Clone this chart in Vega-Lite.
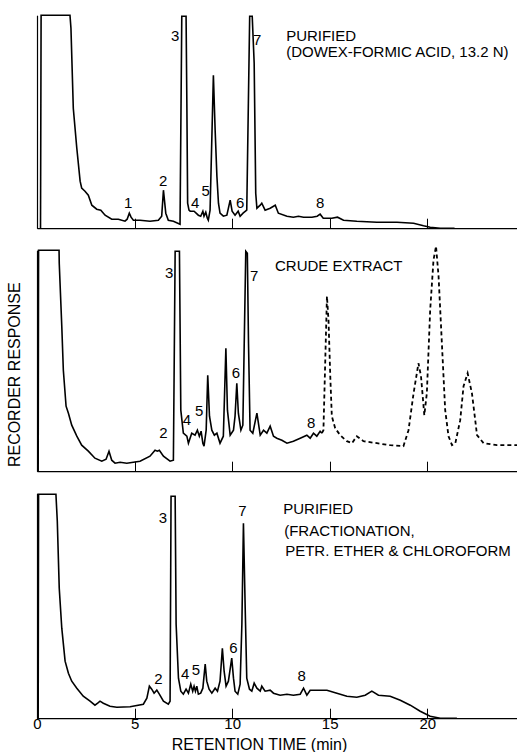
{
  "$schema": "https://vega.github.io/schema/vega-lite/v6.json",
  "autosize": {"type": "pad"},
  "padding": {"left": 6, "top": 11.2, "right": 0, "bottom": 1},
  "background": "white",
  "bounds": "flush",
  "spacing": 22,
  "resolve": {"scale": {"y": "independent"}, "axis": {"x": "independent", "y": "independent"}},
  "config": {
    "view": {"stroke": null},
    "axis": {"domainColor": "black", "tickColor": "black", "labelColor": "black", "titleColor": "black", "labelFont": "Liberation Sans", "titleFont": "Liberation Sans", "titleFontWeight": "normal", "grid": false, "domainWidth": 1.2, "tickWidth": 1},
    "text": {"font": "Liberation Sans", "color": "black", "fontSize": 15},
    "line": {"color": "black", "strokeWidth": 1.6}
  },
  "datasets": {
    "top": [
      {"t":0.18,"v":0},{"t":0.21,"v":213},{"t":1.69,"v":213},{"t":1.74,"v":200},{"t":1.86,"v":120},{"t":2.04,"v":80},{"t":2.21,"v":47},{"t":2.29,"v":40},{"t":2.46,"v":37},{"t":2.63,"v":33},{"t":2.81,"v":23},{"t":3.06,"v":19},{"t":3.27,"v":18},{"t":3.49,"v":13},{"t":3.83,"v":9},{"t":4.17,"v":9},{"t":4.51,"v":7},{"t":4.62,"v":9},{"t":4.73,"v":15},{"t":4.82,"v":11},{"t":4.94,"v":8},{"t":5.28,"v":8},{"t":5.79,"v":7},{"t":6.22,"v":8},{"t":6.39,"v":12},{"t":6.48,"v":38},{"t":6.60,"v":15},{"t":6.73,"v":8},{"t":6.99,"v":7},{"t":7.33,"v":4},{"t":7.42,"v":212},{"t":7.64,"v":212},{"t":7.68,"v":125},{"t":7.72,"v":25},{"t":7.79,"v":18},{"t":7.85,"v":17},{"t":8.05,"v":17},{"t":8.27,"v":13},{"t":8.39,"v":12},{"t":8.50,"v":17},{"t":8.56,"v":12},{"t":8.65,"v":16},{"t":8.73,"v":10},{"t":8.78,"v":8},{"t":8.87,"v":18},{"t":9.04,"v":153},{"t":9.13,"v":98},{"t":9.22,"v":52},{"t":9.30,"v":25},{"t":9.38,"v":15},{"t":9.55,"v":12},{"t":9.73,"v":13},{"t":9.81,"v":20},{"t":9.90,"v":28},{"t":10.0,"v":17},{"t":10.15,"v":13},{"t":10.31,"v":17},{"t":10.41,"v":12},{"t":10.56,"v":15},{"t":10.75,"v":18},{"t":10.90,"v":212},{"t":11.03,"v":212},{"t":11.13,"v":165},{"t":11.21,"v":35},{"t":11.27,"v":20},{"t":11.44,"v":23},{"t":11.52,"v":25},{"t":11.69,"v":18},{"t":11.95,"v":20},{"t":12.21,"v":23},{"t":12.37,"v":15},{"t":12.81,"v":12},{"t":13.14,"v":11},{"t":13.40,"v":12},{"t":13.66,"v":11},{"t":14.09,"v":11},{"t":14.36,"v":12},{"t":14.51,"v":14},{"t":14.67,"v":10},{"t":15.11,"v":10},{"t":15.40,"v":11},{"t":15.71,"v":8},{"t":16.39,"v":7},{"t":17.42,"v":6},{"t":18.45,"v":6},{"t":19.30,"v":5},{"t":19.81,"v":2.5},{"t":20.15,"v":1},{"t":20.67,"v":0},{"t":21.4,"v":0}
    ],
    "mid": [
      {"t":0.06,"v":0},{"t":0.08,"v":221},{"t":1.13,"v":221},{"t":1.14,"v":208},{"t":1.27,"v":145},{"t":1.35,"v":101},{"t":1.49,"v":65},{"t":1.61,"v":58},{"t":1.78,"v":46},{"t":2.04,"v":35},{"t":2.29,"v":26},{"t":2.63,"v":20},{"t":2.97,"v":13},{"t":3.32,"v":10},{"t":3.54,"v":12},{"t":3.69,"v":20},{"t":3.83,"v":11},{"t":4.0,"v":8},{"t":4.26,"v":9},{"t":4.60,"v":8},{"t":5.28,"v":10},{"t":5.79,"v":15},{"t":6.05,"v":21},{"t":6.17,"v":20},{"t":6.27,"v":21},{"t":6.48,"v":15},{"t":6.82,"v":10},{"t":6.99,"v":11},{"t":7.08,"v":220},{"t":7.30,"v":220},{"t":7.37,"v":61},{"t":7.50,"v":38},{"t":7.68,"v":35},{"t":7.76,"v":28},{"t":7.93,"v":38},{"t":8.10,"v":36},{"t":8.22,"v":41},{"t":8.32,"v":35},{"t":8.41,"v":40},{"t":8.50,"v":28},{"t":8.56,"v":25},{"t":8.67,"v":41},{"t":8.75,"v":96},{"t":8.84,"v":55},{"t":8.96,"v":41},{"t":9.09,"v":36},{"t":9.22,"v":38},{"t":9.38,"v":28},{"t":9.55,"v":35},{"t":9.68,"v":123},{"t":9.76,"v":61},{"t":9.90,"v":36},{"t":10.07,"v":41},{"t":10.15,"v":55},{"t":10.24,"v":88},{"t":10.32,"v":58},{"t":10.45,"v":41},{"t":10.55,"v":46},{"t":10.70,"v":220},{"t":10.78,"v":218},{"t":10.84,"v":128},{"t":10.92,"v":41},{"t":11.06,"v":38},{"t":11.27,"v":58},{"t":11.44,"v":36},{"t":11.61,"v":41},{"t":11.78,"v":38},{"t":11.95,"v":45},{"t":12.12,"v":35},{"t":12.29,"v":33},{"t":12.55,"v":31},{"t":12.81,"v":28},{"t":13.14,"v":30},{"t":13.49,"v":33},{"t":13.83,"v":36},{"t":14.0,"v":33},{"t":14.17,"v":38},{"t":14.34,"v":35},{"t":14.51,"v":40},{"t":14.60,"v":38}
    ],
    "midDash": [
      {"t":14.60,"v":38},{"t":14.68,"v":41},{"t":14.86,"v":175},{"t":14.94,"v":151},{"t":15.03,"v":95},{"t":15.11,"v":55},{"t":15.28,"v":43},{"t":15.54,"v":36},{"t":15.88,"v":30},{"t":16.14,"v":28},{"t":16.39,"v":35},{"t":16.73,"v":30},{"t":17.42,"v":28},{"t":18.10,"v":26},{"t":18.78,"v":25},{"t":19.04,"v":41},{"t":19.30,"v":78},{"t":19.55,"v":108},{"t":19.68,"v":95},{"t":19.85,"v":56},{"t":19.98,"v":78},{"t":20.15,"v":161},{"t":20.32,"v":211},{"t":20.45,"v":225},{"t":20.58,"v":195},{"t":20.75,"v":128},{"t":20.92,"v":61},{"t":21.09,"v":35},{"t":21.27,"v":26},{"t":21.44,"v":28},{"t":21.69,"v":51},{"t":21.86,"v":85},{"t":22.07,"v":98},{"t":22.29,"v":78},{"t":22.46,"v":51},{"t":22.55,"v":36},{"t":22.89,"v":28},{"t":23.57,"v":26},{"t":24.6,"v":26}
    ],
    "bot": [
      {"t":0.06,"v":0},{"t":0.08,"v":224},{"t":0.97,"v":224},{"t":1.04,"v":197},{"t":1.14,"v":130},{"t":1.27,"v":90},{"t":1.44,"v":57},{"t":1.61,"v":45},{"t":1.78,"v":37},{"t":2.04,"v":30},{"t":2.37,"v":22},{"t":2.72,"v":17},{"t":2.97,"v":13},{"t":3.11,"v":15},{"t":3.23,"v":17},{"t":3.40,"v":15},{"t":3.74,"v":12},{"t":4.09,"v":11},{"t":4.77,"v":11.5},{"t":5.45,"v":14},{"t":5.63,"v":20},{"t":5.76,"v":32},{"t":5.88,"v":29},{"t":6.0,"v":25},{"t":6.14,"v":28},{"t":6.27,"v":24},{"t":6.48,"v":17},{"t":6.73,"v":14},{"t":6.82,"v":17},{"t":6.87,"v":222},{"t":7.08,"v":222},{"t":7.13,"v":94},{"t":7.25,"v":40},{"t":7.37,"v":27},{"t":7.50,"v":24},{"t":7.64,"v":29},{"t":7.76,"v":25},{"t":7.88,"v":34},{"t":7.98,"v":27},{"t":8.05,"v":32},{"t":8.12,"v":27},{"t":8.19,"v":32},{"t":8.27,"v":24},{"t":8.39,"v":25},{"t":8.50,"v":30},{"t":8.62,"v":54},{"t":8.70,"v":37},{"t":8.82,"v":29},{"t":8.96,"v":25},{"t":9.13,"v":30},{"t":9.25,"v":27},{"t":9.38,"v":37},{"t":9.50,"v":70},{"t":9.59,"v":47},{"t":9.69,"v":32},{"t":9.81,"v":37},{"t":9.98,"v":60},{"t":10.07,"v":40},{"t":10.15,"v":27},{"t":10.29,"v":24},{"t":10.41,"v":34},{"t":10.50,"v":94},{"t":10.58,"v":195},{"t":10.67,"v":110},{"t":10.75,"v":40},{"t":10.89,"v":29},{"t":11.01,"v":27},{"t":11.13,"v":35},{"t":11.27,"v":30},{"t":11.44,"v":27},{"t":11.52,"v":32},{"t":11.69,"v":27},{"t":11.95,"v":28},{"t":12.12,"v":25},{"t":12.46,"v":23},{"t":12.81,"v":24},{"t":13.14,"v":23},{"t":13.49,"v":24},{"t":13.66,"v":30},{"t":13.83,"v":23},{"t":14.0,"v":28},{"t":14.34,"v":28},{"t":14.86,"v":28},{"t":15.37,"v":25},{"t":15.88,"v":22},{"t":16.39,"v":21},{"t":16.82,"v":23},{"t":17.16,"v":27},{"t":17.50,"v":23},{"t":18.10,"v":22},{"t":18.62,"v":18},{"t":19.13,"v":13},{"t":19.64,"v":7},{"t":20.15,"v":2},{"t":20.67,"v":0},{"t":21.52,"v":0}
    ],
    "peaks": [
      {"panel":"top","label":"1","t":4.67,"v":25},
      {"panel":"top","label":"2","t":6.46,"v":47},
      {"panel":"top","label":"3","t":7.08,"v":192},
      {"panel":"top","label":"4","t":8.10,"v":25},
      {"panel":"top","label":"5","t":8.64,"v":37},
      {"panel":"top","label":"6","t":10.41,"v":25},
      {"panel":"top","label":"7","t":11.28,"v":188},
      {"panel":"top","label":"8","t":14.51,"v":25},
      {"panel":"mid","label":"2","t":6.48,"v":38},
      {"panel":"mid","label":"3","t":6.78,"v":198},
      {"panel":"mid","label":"4","t":7.68,"v":51},
      {"panel":"mid","label":"5","t":8.31,"v":60},
      {"panel":"mid","label":"6","t":10.19,"v":98},
      {"panel":"mid","label":"7","t":11.13,"v":195},
      {"panel":"mid","label":"8","t":14.05,"v":48},
      {"panel":"bot","label":"2","t":6.22,"v":39},
      {"panel":"bot","label":"3","t":6.45,"v":200},
      {"panel":"bot","label":"4","t":7.59,"v":44},
      {"panel":"bot","label":"5","t":8.15,"v":48},
      {"panel":"bot","label":"6","t":10.07,"v":70},
      {"panel":"bot","label":"7","t":10.53,"v":207},
      {"panel":"bot","label":"8","t":13.57,"v":42}
    ],
    "notes": [
      {"panel":"top","label":"PURIFIED","t":12.77,"v":192},
      {"panel":"top","label":"(DOWEX-FORMIC ACID, 13.2 N)","t":12.77,"v":176},
      {"panel":"mid","label":"CRUDE EXTRACT","t":12.2,"v":205},
      {"panel":"bot","label":"PURIFIED","t":12.62,"v":209},
      {"panel":"bot","label":"(FRACTIONATION,","t":12.67,"v":187},
      {"panel":"bot","label":"PETR. ETHER & CHLOROFORM","t":12.72,"v":167}
    ]
  },
  "vconcat": [
    {
      "width": 480, "height": 213,
      "encoding": {
        "x": {"field": "t", "type": "quantitative", "scale": {"domain": [0, 24.6], "nice": false, "zero": false}, "axis": {"values": [0, 5, 10, 15, 20], "labels": false, "title": null, "tickSize": -10}},
        "y": {"field": "v", "type": "quantitative", "scale": {"domain": [0, 213], "nice": false, "zero": false}, "axis": {"ticks": false, "labels": false, "title": null}}
      },
      "layer": [
        {"data": {"name": "top"}, "mark": {"type": "line"}},
        {"data": {"name": "peaks"}, "transform": [{"filter": "datum.panel === 'top'"}], "mark": {"type": "text", "align": "center", "baseline": "middle"}, "encoding": {"text": {"field": "label"}}},
        {"data": {"name": "notes"}, "transform": [{"filter": "datum.panel === 'top'"}], "mark": {"type": "text", "align": "left", "baseline": "middle"}, "encoding": {"text": {"field": "label"}}}
      ]
    },
    {
      "width": 480, "height": 221,
      "encoding": {
        "x": {"field": "t", "type": "quantitative", "scale": {"domain": [0, 24.6], "nice": false, "zero": false}, "axis": {"values": [0, 5, 10, 15, 20], "labels": false, "title": null, "tickSize": -10}},
        "y": {"field": "v", "type": "quantitative", "scale": {"domain": [0, 221], "nice": false, "zero": false}, "axis": {"ticks": false, "labels": false, "title": "RECORDER RESPONSE", "titleFontSize": 16, "titleX": -23, "titleY": 124, "titleBaseline": "middle", "titleAlign": "center"}}
      },
      "layer": [
        {"data": {"name": "mid"}, "mark": {"type": "line"}},
        {"data": {"name": "midDash"}, "mark": {"type": "line", "strokeDash": [4, 3], "strokeWidth": 1.8}},
        {"data": {"name": "peaks"}, "transform": [{"filter": "datum.panel === 'mid'"}], "mark": {"type": "text", "align": "center", "baseline": "middle"}, "encoding": {"text": {"field": "label"}}},
        {"data": {"name": "notes"}, "transform": [{"filter": "datum.panel === 'mid'"}], "mark": {"type": "text", "align": "left", "baseline": "middle"}, "encoding": {"text": {"field": "label"}}}
      ]
    },
    {
      "width": 480, "height": 225,
      "encoding": {
        "x": {"field": "t", "type": "quantitative", "scale": {"domain": [0, 24.6], "nice": false, "zero": false}, "axis": {"values": [0, 5, 10, 15, 20], "tickSize": -10, "labelFontSize": 15, "labelBaseline": "middle", "labelPadding": 15, "labelFlush": false, "title": "RETENTION TIME (min)", "titleFontSize": 16, "titleX": 222, "titleY": 18, "titleBaseline": "top", "titleAlign": "center"}},
        "y": {"field": "v", "type": "quantitative", "scale": {"domain": [0, 225], "nice": false, "zero": false}, "axis": {"ticks": false, "labels": false, "title": null}}
      },
      "layer": [
        {"data": {"name": "bot"}, "mark": {"type": "line"}},
        {"data": {"name": "peaks"}, "transform": [{"filter": "datum.panel === 'bot'"}], "mark": {"type": "text", "align": "center", "baseline": "middle"}, "encoding": {"text": {"field": "label"}}},
        {"data": {"name": "notes"}, "transform": [{"filter": "datum.panel === 'bot'"}], "mark": {"type": "text", "align": "left", "baseline": "middle"}, "encoding": {"text": {"field": "label"}}}
      ]
    }
  ]
}
